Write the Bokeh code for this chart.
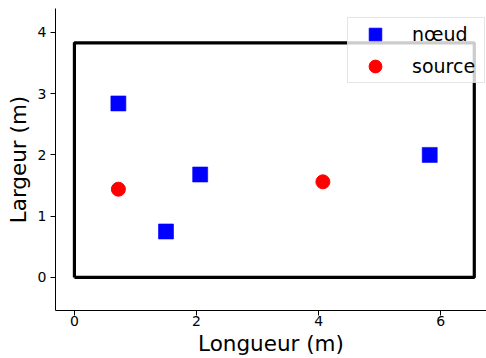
from bokeh.plotting import figure
from bokeh.models import Range1d, Legend, LegendItem
from bokeh.embed import file_html
from bokeh.resources import INLINE

# Room dimensions (m)
room_length = 6.55
room_width = 3.83

# Nodes (nœud)
node_x = [0.72, 1.50, 2.06, 5.82]
node_y = [2.84, 0.75, 1.68, 2.00]

# Sources
source_x = [0.72, 4.07]
source_y = [1.44, 1.56]

x_ticks = [0, 2, 4, 6]
y_ticks = [0, 1, 2, 3, 4]

p = figure(width=486, height=358, output_backend="svg", toolbar_location=None,
           x_range=Range1d(-0.31, 6.75), y_range=Range1d(-0.54, 4.39),
           min_border_left=55, min_border_right=0, min_border_top=8, min_border_bottom=48)

p.outline_line_color = None
p.xgrid.visible = False
p.ygrid.visible = False
p.background_fill_color = "white"
p.border_fill_color = "white"

room_x = [0, room_length, room_length, 0, 0]
room_y = [0, 0, room_width, room_width, 0]
p.line(room_x, room_y, line_color="black", line_width=3.2)

r_node = p.scatter(node_x, node_y, marker="square", size=15, fill_color="blue", line_color="blue", line_alpha=0.6)
r_src = p.scatter(source_x, source_y, marker="circle", size=14, fill_color="red", line_color="red")

for ax in (p.xaxis[0], p.yaxis[0]):
    ax.major_tick_out = 5
    ax.major_tick_in = 0
    ax.minor_tick_line_color = None
    ax.axis_line_color = "black"
    ax.major_tick_line_color = "black"
    ax.major_label_text_font = "DejaVu Sans"
    ax.major_label_text_font_size = "14px"
    ax.major_label_text_color = "black"
    ax.axis_label_text_font = "DejaVu Sans"
    ax.axis_label_text_font_size = "21.5px"
    ax.axis_label_text_font_style = "normal"
    ax.axis_label_text_color = "black"

p.xaxis.major_label_standoff = 0
p.xaxis.axis_label_standoff = 2
p.yaxis.major_label_standoff = 4
p.yaxis.axis_label_standoff = 4

p.xaxis.ticker = x_ticks
p.yaxis.ticker = y_ticks
p.xaxis.axis_label = "Longueur (m)"
p.yaxis.axis_label = "Largeur (m)"

legend = Legend(items=[LegendItem(label="nœud", renderers=[r_node]),
                       LegendItem(label="source", renderers=[r_src])],
                location=(292, 227))
legend.label_text_font = "DejaVu Sans"
legend.label_text_font_size = "19px"
legend.label_text_color = "black"
legend.glyph_width = 54
legend.glyph_height = 32
legend.label_height = 20
legend.label_width = 72
legend.label_standoff = 10
legend.spacing = 0
legend.padding = 0
legend.border_line_color = "#cccccc"
legend.background_fill_alpha = 0.8
p.add_layout(legend)

open("out.html", "w").write(file_html(p, INLINE))
